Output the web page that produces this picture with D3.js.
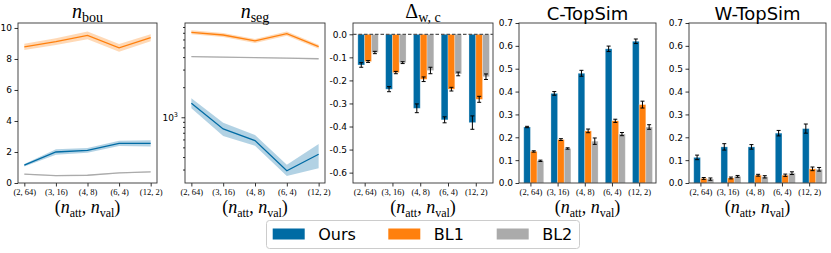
<!DOCTYPE html>
<html>
<head>
<meta charset="utf-8">
<script src="https://cdn.jsdelivr.net/npm/d3@7"></script>
<style>
  body { margin: 0; background: #fff; }
  text { fill: #000; }
</style>
</head>
<body>
<svg id="chart" width="831" height="253"></svg>
<script>
// categories (n_att, n_val)
const categories = ["(2, 64)", "(3, 16)", "(4, 8)", "(6, 4)", "(12, 2)"];
const seriesNames = ["Ours", "BL1", "BL2"];

// n_bou : mean and half band
const nbouOurs = [1.15, 2.0, 2.1, 2.55, 2.56];
const nbouOursSd = [0.08, 0.18, 0.15, 0.17, 0.2];
const nbouBL1 = [8.78, 9.12, 9.52, 8.72, 9.37];
const nbouBL1Sd = [0.2, 0.22, 0.25, 0.25, 0.22];
const nbouBL2 = [0.57, 0.47, 0.5, 0.65, 0.72];
const nbouBL2Sd = [0.03, 0.03, 0.03, 0.03, 0.03];

// n_seg (log scale) : mean, low, high
const nsegOurs = [1380, 764, 584, 292, 427];
const nsegOursLo = [1230, 650, 520, 259, 309];
const nsegOursHi = [1550, 883, 665, 334, 541];
const nsegBL1 = [7080, 6650, 5800, 6860, 5080];
const nsegBL1Lo = [6750, 6350, 5530, 6540, 4850];
const nsegBL1Hi = [7420, 6970, 6080, 7190, 5320];
const nsegBL2 = [4040, 3990, 3950, 3900, 3850];
const nsegBL2Lo = [4000, 3950, 3910, 3860, 3810];
const nsegBL2Hi = [4080, 4030, 3990, 3940, 3890];

// Delta_{w,c} bars : mean and error
const deltaOurs = [-0.133, -0.238, -0.321, -0.371, -0.383];
const deltaOursErr = [0.01, 0.011, 0.019, 0.013, 0.029];
const deltaBL1 = [-0.118, -0.166, -0.195, -0.238, -0.282];
const deltaBL1Err = [0.004, 0.005, 0.01, 0.008, 0.013];
const deltaBL2 = [-0.079, -0.123, -0.157, -0.172, -0.184];
const deltaBL2Err = [0.005, 0.004, 0.014, 0.008, 0.012];

// C-TopSim
const ctopOurs = [0.245, 0.392, 0.48, 0.587, 0.62];
const ctopOursErr = [0.003, 0.008, 0.013, 0.012, 0.01];
const ctopBL1 = [0.138, 0.19, 0.228, 0.272, 0.343];
const ctopBL1Err = [0.003, 0.004, 0.008, 0.007, 0.015];
const ctopBL2 = [0.097, 0.151, 0.183, 0.214, 0.245];
const ctopBL2Err = [0.003, 0.003, 0.014, 0.007, 0.01];

// W-TopSim
const wtopOurs = [0.112, 0.158, 0.158, 0.218, 0.238];
const wtopOursErr = [0.01, 0.014, 0.01, 0.012, 0.02];
const wtopBL1 = [0.02, 0.022, 0.034, 0.034, 0.062];
const wtopBL1Err = [0.004, 0.004, 0.004, 0.005, 0.008];
const wtopBL2 = [0.017, 0.029, 0.027, 0.043, 0.06];
const wtopBL2Err = [0.005, 0.004, 0.005, 0.006, 0.008];

const nbouTicks = [0, 2, 4, 6, 8, 10];
const deltaTicks = [0, -0.1, -0.2, -0.3, -0.4, -0.5, -0.6];
const topsimTicks = [0, 0.1, 0.2, 0.3, 0.4, 0.5, 0.6, 0.7];

const colors = { Ours: "#006BA4", BL1: "#FF800E", BL2: "#ABABAB" };

const svg = d3.select("#chart");
svg.append("rect").attr("width", 831).attr("height", 253).attr("fill", "#fff");

const TOP = 23, BOT = 183;
const sans = "DejaVu Sans, sans-serif";
const serif = "Liberation Serif, DejaVu Serif, serif";

function styleAxis(ax) {
  ax.select(".domain").remove();
  ax.selectAll(".tick line").attr("stroke", "#000").attr("stroke-width", 0.8);
  ax.selectAll(".tick text").attr("font-family", sans).attr("font-size", 9).attr("fill", "#000");
}

function frame(x0, x1) {
  svg.append("rect")
    .attr("x", x0).attr("y", TOP).attr("width", x1 - x0).attr("height", BOT - TOP)
    .attr("fill", "none").attr("stroke", "#333").attr("stroke-width", 0.9);
}

function xAxis(x, x0, x1) {
  const ax = svg.append("g").attr("transform", `translate(0,${BOT})`)
    .call(d3.axisBottom(x).tickValues(d3.range(5)).tickSize(3.5).tickPadding(2)
      .tickFormat(i => categories[i]));
  styleAxis(ax);
  ax.selectAll(".tick text").attr("font-family", serif).attr("font-size", 8.5);
  // axis label (n_att, n_val)
  const cx = (x0 + x1) / 2;
  const t = svg.append("text").attr("x", cx).attr("y", 213)
    .attr("text-anchor", "middle").attr("font-family", serif).attr("font-size", 18);
  t.append("tspan").text("(");
  t.append("tspan").attr("font-style", "italic").text("n");
  t.append("tspan").attr("font-size", 12).attr("dy", 4).text("att");
  t.append("tspan").attr("dy", -4).text(", ");
  t.append("tspan").attr("font-style", "italic").text("n");
  t.append("tspan").attr("font-size", 12).attr("dy", 4).text("val");
  t.append("tspan").attr("dy", -4).text(")");
}

function mathTitle(cx, main, sub, mainItalic) {
  const t = svg.append("text").attr("x", cx).attr("y", 18)
    .attr("text-anchor", "middle").attr("font-family", serif).attr("font-size", 20);
  t.append("tspan").attr("font-style", mainItalic ? "italic" : "normal").text(main);
  t.append("tspan").attr("font-size", 14).attr("dy", 4).text(sub);
}

function sansTitle(cx, label) {
  svg.append("text").attr("x", cx).attr("y", 20).attr("text-anchor", "middle")
    .attr("font-family", sans).attr("font-size", 18).text(label);
}

function linePanel(x0, x1, y, lines) {
  const x = d3.scaleLinear().domain([-0.2, 4.2]).range([x0, x1]);
  lines.forEach(s => {
    const pts = s.mean.map((m, i) => ({ i, m, lo: s.lo[i], hi: s.hi[i] }));
    svg.append("path").datum(pts)
      .attr("fill", colors[s.name]).attr("fill-opacity", 0.3)
      .attr("d", d3.area().x(d => x(d.i)).y0(d => y(d.lo)).y1(d => y(d.hi)));
    svg.append("path").datum(pts)
      .attr("fill", "none").attr("stroke", colors[s.name]).attr("stroke-width", 1.3)
      .attr("d", d3.line().x(d => x(d.i)).y(d => y(d.m)));
  });
  xAxis(x, x0, x1);
  frame(x0, x1);
}

function barPanel(x0, x1, y, bars) {
  const x = d3.scaleLinear().domain([-0.42, 4.62]).range([x0, x1]);
  const bw = 0.245;
  bars.forEach((s, k) => {
    const off = (k - 1) * bw;
    const g = svg.append("g");
    g.selectAll("rect").data(s.mean).join("rect")
      .attr("x", (d, i) => x(i + off))
      .attr("width", x(bw) - x(0))
      .attr("y", d => Math.min(y(d), y(0)))
      .attr("height", d => Math.abs(y(d) - y(0)))
      .attr("fill", colors[s.name])
      .attr("stroke", "#fff").attr("stroke-opacity", 0.35).attr("stroke-width", 0.8);
    s.mean.forEach((m, i) => {
      const cx = x(i + off + bw / 2);
      const e = s.err[i];
      const eg = svg.append("g").attr("stroke", "#000").attr("stroke-width", 1);
      eg.append("line").attr("x1", cx).attr("x2", cx).attr("y1", y(m - e)).attr("y2", y(m + e));
      eg.append("line").attr("x1", cx - 2).attr("x2", cx + 2).attr("y1", y(m - e)).attr("y2", y(m - e));
      eg.append("line").attr("x1", cx - 2).attr("x2", cx + 2).attr("y1", y(m + e)).attr("y2", y(m + e));
    });
  });
  xAxis(x, x0, x1);
  frame(x0, x1);
  return x;
}

function leftAxis(x0, y, ticks, fmt) {
  const ax = svg.append("g").attr("transform", `translate(${x0},0)`)
    .call(d3.axisLeft(y).tickValues(ticks).tickSize(3.5).tickPadding(2.5).tickFormat(fmt));
  styleAxis(ax);
}

// ---- panel 1 : n_bou
{
  const x0 = 18, x1 = 157;
  const y = d3.scaleLinear().domain([0, 10.32]).range([BOT, TOP]);
  const mk = (name, m, sd) => ({ name, mean: m, lo: m.map((v, i) => v - sd[i]), hi: m.map((v, i) => v + sd[i]) });
  linePanel(x0, x1, y, [mk("BL2", nbouBL2, nbouBL2Sd), mk("BL1", nbouBL1, nbouBL1Sd), mk("Ours", nbouOurs, nbouOursSd)]);
  leftAxis(x0, y, nbouTicks, d3.format("d"));
  mathTitle((x0 + x1) / 2, "n", "bou", true);
}

// ---- panel 2 : n_seg (log)
{
  const x0 = 185, x1 = 325;
  const y = d3.scaleLog().domain([220, 8770]).range([BOT, TOP]);
  linePanel(x0, x1, y, [
    { name: "BL2", mean: nsegBL2, lo: nsegBL2Lo, hi: nsegBL2Hi },
    { name: "BL1", mean: nsegBL1, lo: nsegBL1Lo, hi: nsegBL1Hi },
    { name: "Ours", mean: nsegOurs, lo: nsegOursLo, hi: nsegOursHi }
  ]);
  const minor = [300, 400, 500, 600, 700, 800, 900, 2000, 3000, 4000, 5000, 6000, 7000, 8000];
  const mn = svg.append("g").attr("transform", `translate(${x0},0)`)
    .call(d3.axisLeft(y).tickValues(minor).tickSize(2).tickFormat(""));
  styleAxis(mn);
  const ax = svg.append("g").attr("transform", `translate(${x0},0)`)
    .call(d3.axisLeft(y).tickValues([1000]).tickSize(3.5).tickPadding(2.5).tickFormat(""));
  styleAxis(ax);
  const lab = svg.append("text").attr("x", x0 - 7).attr("y", y(1000) + 3.5)
    .attr("text-anchor", "end").attr("font-family", sans).attr("font-size", 9);
  lab.append("tspan").text("10");
  lab.append("tspan").attr("font-size", 6.5).attr("dy", -4).text("3");
  mathTitle((x0 + x1) / 2, "n", "seg", true);
}

// ---- panel 3 : Delta_{w,c}
{
  const x0 = 353, x1 = 493;
  const y = d3.scaleLinear().domain([-0.645, 0.049]).range([BOT, TOP]);
  barPanel(x0, x1, y, [
    { name: "Ours", mean: deltaOurs, err: deltaOursErr },
    { name: "BL1", mean: deltaBL1, err: deltaBL1Err },
    { name: "BL2", mean: deltaBL2, err: deltaBL2Err }
  ]);
  svg.append("line").attr("x1", x0).attr("x2", x1).attr("y1", y(0)).attr("y2", y(0))
    .attr("stroke", "#555").attr("stroke-width", 1.2).attr("stroke-dasharray", "3.5,2");
  leftAxis(x0, y, deltaTicks, d => d3.format(".1f")(d).replace("−", "-"));
  mathTitle((x0 + x1) / 2, "Δ", "w, c", false);
}

// ---- panel 4 : C-TopSim
{
  const x0 = 519, x1 = 656;
  const y = d3.scaleLinear().domain([0, 0.7]).range([BOT, TOP]);
  barPanel(x0, x1, y, [
    { name: "Ours", mean: ctopOurs, err: ctopOursErr },
    { name: "BL1", mean: ctopBL1, err: ctopBL1Err },
    { name: "BL2", mean: ctopBL2, err: ctopBL2Err }
  ]);
  leftAxis(x0, y, topsimTicks, d3.format(".1f"));
  sansTitle((x0 + x1) / 2, "C-TopSim");
}

// ---- panel 5 : W-TopSim
{
  const x0 = 689, x1 = 826;
  const y = d3.scaleLinear().domain([0, 0.7]).range([BOT, TOP]);
  barPanel(x0, x1, y, [
    { name: "Ours", mean: wtopOurs, err: wtopOursErr },
    { name: "BL1", mean: wtopBL1, err: wtopBL1Err },
    { name: "BL2", mean: wtopBL2, err: wtopBL2Err }
  ]);
  leftAxis(x0, y, topsimTicks, d3.format(".1f"));
  sansTitle((x0 + x1) / 2, "W-TopSim");
}

// ---- legend
{
  const lg = svg.append("g");
  lg.append("rect").attr("x", 266.5).attr("y", 220.5).attr("width", 313).attr("height", 28)
    .attr("rx", 3).attr("fill", "#fff").attr("stroke", "#ccc").attr("stroke-width", 1);
  const px = [272.7, 388.3, 496.7];
  seriesNames.forEach((name, i) => {
    lg.append("rect").attr("x", px[i]).attr("y", 228.5).attr("width", 32).attr("height", 11)
      .attr("fill", colors[name]);
    lg.append("text").attr("x", px[i] + 45.5).attr("y", 239.5)
      .attr("font-family", sans).attr("font-size", 16).text(name);
  });
}
</script>
</body>
</html>
